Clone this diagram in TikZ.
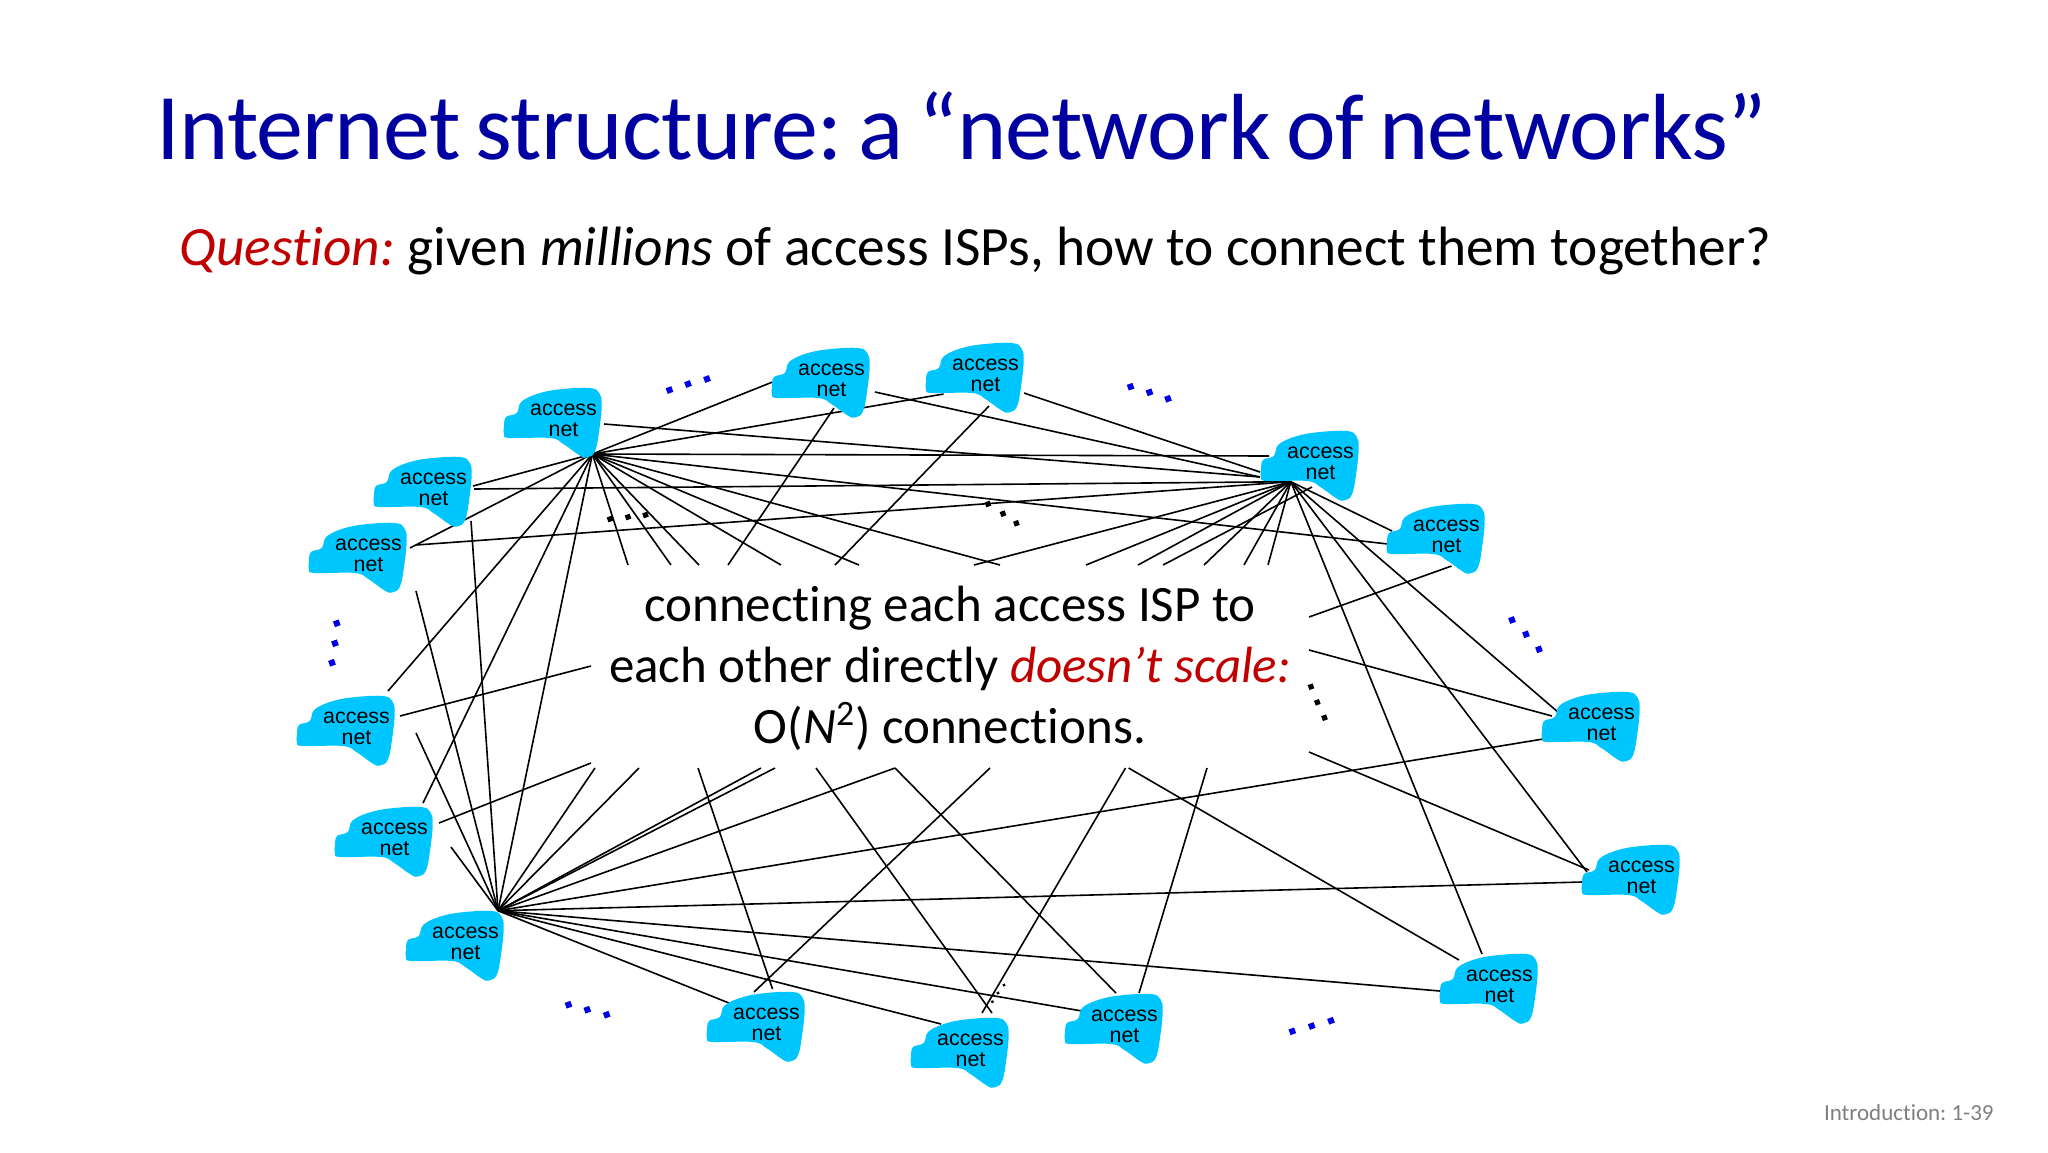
\documentclass[tikz,border=0pt]{standalone}
\usepackage{fontspec}
\setmainfont{Carlito}[Ligatures=CommonOff]
\newfontfamily\netfont{Liberation Sans}
\newfontfamily\titlefont{Carlito}[Ligatures=CommonOff, LetterSpace=-0.8, WordSpace=0.75]
\pgfdeclarelayer{background}
\pgfsetlayers{background,main}
\definecolor{titleblue}{RGB}{0,0,160}
\definecolor{qred}{RGB}{192,0,0}
\definecolor{cloudblue}{RGB}{0,198,255}
\definecolor{footgray}{RGB}{127,127,127}
\tikzset{
	link/.style={black, line width=0.8pt},
	cloudtext/.style={inner sep=0pt, align=center, font=\netfont\fontsize{10.7}{10.5}\selectfont},
	bluedot/.style={fill={rgb,255:red,0;green,0;blue,230}},
	blackdot/.style={fill=black}
}
% one access network cloud, #1 name, #2 #3 top left corner in pixels
\newcommand{\accessnet}[3]{
	\begin{scope}[shift={(#2,#3)}]
		\fill[cloudblue] plot[smooth cycle, tension=0.65] coordinates {(0,38.4) (2,29) (12.7,25) (17.7,13.4) (36,5) (59,1) (86,0) (95.3,5) (97.7,16.7) (95.3,41.7) (91,63.4) (83.3,69.4) (76,67.7) (59.3,56) (46,50) (6,50) (0,46.7)};
		\node[cloudtext] (#1) at (59.5,32.5) {access\\net};
	\end{scope}
}
% small dots of an ellipsis
\newcommand{\tick}[4]{\fill[#1, rotate around={20:(#2,#3)}] (#2-#4,#3-#4) rectangle (#2+#4,#3+#4);}
\begin{document}
\frenchspacing
\begin{tikzpicture}[x=0.5pt, y=-0.5pt]
	\useasboundingbox (0,0) rectangle (2048,1152);

	%text
	\node[anchor=base west, inner sep=0pt, text=titleblue, font=\titlefont\fontsize{47}{47}\selectfont] (title) at (156,159) {Internet structure: a “network of networks”};
	\node[anchor=base west, inner sep=0pt, font=\fontsize{27.7}{27.7}\selectfont] (question) at (179,265) {\textcolor{qred}{\textit{Question:}} given \textit{millions} of access ISPs, how to connect them together?};
	\node[align=center, inner sep=0pt, font=\fontsize{25.5}{30.5}\selectfont] (msg) at (950,668.7) {connecting each access ISP to\\each other directly \textcolor{qred}{\textit{doesn’t scale:}}\\O(\textit{N}\textsuperscript{2}) connections.};
	\node[anchor=base east, inner sep=0pt, text=footgray, font=\fontsize{11.5}{11.5}\selectfont] (foot) at (1994,1120) {Introduction: 1-39};

	%clouds
	\accessnet{n1}{504}{388}
	\accessnet{n2}{772}{348}
	\accessnet{n3}{926}{343}
	\accessnet{n4}{1261}{431}
	\accessnet{n5}{1387}{504}
	\accessnet{n6}{1542}{692}
	\accessnet{n7}{1582}{845}
	\accessnet{n8}{1440}{954}
	\accessnet{n9}{1065}{994}
	\accessnet{n10}{911}{1018}
	\accessnet{n11}{707}{992}
	\accessnet{n12}{406}{911}
	\accessnet{n13}{335}{807}
	\accessnet{n14}{297}{696}
	\accessnet{n15}{309}{523}
	\accessnet{n16}{374}{457}

	%ellipsis dots
	\foreach \x/\y in {669.5/390, 688/384, 707/379, 1130.6/386.7, 1149.5/392.3, 1168/398.7, 1512/620, 1526/634.3, 1539/649.3, 336.8/623.3, 335/643.3, 332/662.7, 568.5/1004.7, 587.3/1009.7, 606.7/1014.7, 1292.3/1031.3, 1311.7/1026, 1331/1020.7}
		\tick{bluedot}{\x}{\y}{3};
	\foreach \x/\y in {610/519, 628/517, 645.5/515, 988/504, 1003/513.7, 1016.4/523.3, 1311/686.7, 1317.3/702.3, 1324.5/717.7}
		\tick{blackdot}{\x}{\y}{2.6};
	\foreach \x/\y in {1004/985, 998/993, 992.4/1001.7}
		\tick{blackdot}{\x}{\y}{1.2};

	%line ends
	\foreach \n/\x/\y in {hubA/592.4/454, hubB/1290.8/481.7, hubC/498/910.7,
		a1/772.5/382, a2/943.5/394, a3/1269/456, a4/1388/544, a5/628/565, a6/671/565, a7/699/565, a8/781/565, a9/859/565, a10/1000/565, a11/410/548, a12/473/486, a13/388/691, a14/423/803,
		b1/1392/531, b2/1559/713, b3/1587/872, b4/1482/954, b5/474/489, b6/416/545, b7/974/565, b8/1086/565, b9/1138/565, b10/1204/565, b11/1244/565, b12/1268/565,
		c1/451/847, c2/416/733, c3/416/591, c4/471/521, c6/595/768, c7/639/768, c8/761/768, c9/775/768, c10/895/768, c11/1543/739, c12/1582/882, c13/1440/991, c14/1082/1011, c15/941/1024, c16/729/1003,
		d1s/604/424, d1e/1260/477, d2s/875/392, d2e/1260/477, d3s/1024/393, d3e/1260/472, d4s/834/408, d4e/728/565, d5s/989/406, d5e/835/565, d6s/1312/487, d6e/1163/565,
		e1s/400/716, e1e/591/666, e2s/439/823, e2e/591/763,
		f1s/698/768, f1e/772.5/989, f2s/816/768, f2e/992/1013, f3s/990/768, f3e/754/992, f4s/1125.5/768, f4e/982/1013, f5s/1128.6/768, f5e/1459/960, f6s/1207/768, f6e/1139/993, f7s/895/768, f7e/1116/993,
		g1s/1309/617, g1e/1451.5/566, g2s/1309/650, g2e/1552/716, g3s/1309/752, g3e/1589/870}
		\coordinate (\n) at (\x,\y);

	%Lines
	\begin{pgfonlayer}{background}
		\foreach \e in {a1,a2,a3,a4,a5,a6,a7,a8,a9,a10,a11,a12,a13,a14,hubC}
			\draw[link] (hubA) -- (\e);
		\foreach \e in {b1,b2,b3,b4,b5,b6,b7,b8,b9,b10,b11,b12}
			\draw[link] (hubB) -- (\e);
		\foreach \e in {c1,c2,c3,c4,c6,c7,c8,c9,c10,c11,c12,c13,c14,c15,c16}
			\draw[link] (hubC) -- (\e);
		\foreach \p in {d1,d2,d3,d4,d5,d6,e1,e2,f1,f2,f3,f4,f5,f6,f7,g1,g2,g3}
			\draw[link] (\p s) -- (\p e);
	\end{pgfonlayer}
\end{tikzpicture}
\end{document}
